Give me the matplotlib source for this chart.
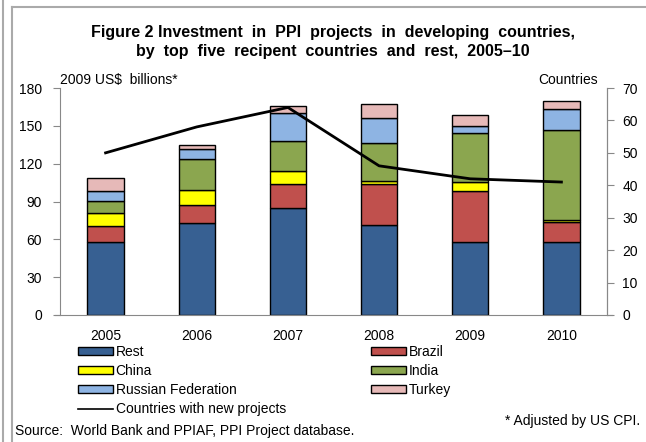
import numpy as np
import matplotlib.pyplot as plt
from matplotlib.lines import Line2D
from matplotlib.patches import Patch

plt.rcParams['font.family'] = ['Liberation Sans', 'DejaVu Sans']

years = ['2005', '2006', '2007', '2008', '2009', '2010']
rest = [58, 73, 84.5, 71.5, 58, 58]
brazil = [12.5, 14.5, 19.5, 32.5, 40, 16]
china = [10, 11.5, 10.5, 2, 7.5, 1.5]
india = [10, 24.5, 23.5, 30, 38.5, 71.5]
russia = [7.5, 8, 22.5, 20.5, 6, 16.5]
turkey = [11, 3.5, 5.5, 11, 8.5, 6.5]
countries = [50, 58, 64, 46, 42, 41]

series = [('Rest', rest, '#376092'), ('Brazil', brazil, '#C0504D'),
          ('China', china, '#FFFF00'), ('India', india, '#8BA64F'),
          ('Russian Federation', russia, '#8EB4E3'), ('Turkey', turkey, '#E6B9B8')]

fig = plt.figure(figsize=(6.46, 4.42), dpi=100)
ax = fig.add_axes([60/646, 1-315/442, 547/646, 227/442])
x = np.arange(len(years))
bottom = np.zeros(len(years))
for name, vals, col in series:
    ax.bar(x, vals, 0.4, bottom=bottom, color=col, edgecolor='black', linewidth=1, zorder=2)
    bottom += np.array(vals)

ax.set_xlim(-0.5, 5.5)
ax.set_ylim(0, 180)
ax.set_yticks(range(0, 181, 30))
ax.set_xticks(x)
ax.set_xticklabels(years)
gray = '#888888'
ax.spines['top'].set_visible(False)
for s in ['left', 'right', 'bottom']:
    ax.spines[s].set_color(gray)
ax.spines['bottom'].set_bounds(-0.5 - 5/91, 5.5 + 5/91)
ax.tick_params(axis='y', direction='out', length=5, color=gray, labelsize=10, pad=8)
ax.tick_params(axis='x', length=0, labelsize=10, pad=10)

ax2 = ax.twinx()
ax2.plot(x, countries, color='black', linewidth=2, zorder=3)
ax2.set_ylim(0, 70)
ax2.set_yticks(range(0, 71, 10))
for s in ['top', 'left', 'bottom']:
    ax2.spines[s].set_visible(False)
ax2.spines['right'].set_color(gray)
ax2.tick_params(axis='y', direction='out', length=5, color=gray, labelsize=10, pad=6)

fig.text(333/646, 1-42/442,
         'Figure 2 Investment  in  PPI  projects  in  developing  countries,\nby  top  five  recipent  countries  and  rest,  2005\u201310',
         ha='center', va='center', fontsize=11.5, fontweight='bold', linespacing=1.3)
fig.text(60/646, 1-80/442, '2009 US$  billions*', ha='left', va='center', fontsize=10)
fig.text(598/646, 1-80/442, 'Countries', ha='right', va='center', fontsize=10)

h = {name: Patch(facecolor=col, edgecolor='black', linewidth=1) for name, _, col in series}
line_h = Line2D([], [], color='black', linewidth=1.2)
kw = dict(frameon=False, fontsize=10, handlelength=2.5, handleheight=0.45, handletextpad=0.2,
          labelspacing=0.36, borderaxespad=0, borderpad=0)
fig.legend([h['Rest'], h['China'], h['Russian Federation'], line_h],
           ['Rest', 'China', 'Russian Federation', 'Countries with new projects'],
           loc='upper left', bbox_to_anchor=(78/646, 1-345/442), **kw)
fig.legend([h['Brazil'], h['India'], h['Turkey']], ['Brazil', 'India', 'Turkey'],
           loc='upper left', bbox_to_anchor=(371/646, 1-345/442), **kw)

fig.text(15/646, 1-431/442, 'Source:  World Bank and PPIAF, PPI Project database.', fontsize=10, va='center')
fig.text(640/646, 1-421/442, '* Adjusted by US CPI.', fontsize=10, va='center', ha='right')

fig.add_artist(Line2D([3/646, 3/646], [0, 1], color='#aaaaaa', linewidth=1.5, transform=fig.transFigure))
fig.add_artist(Line2D([12/646, 12/646], [0, 1-7/442], color='#aaaaaa', linewidth=1.5, transform=fig.transFigure))
fig.add_artist(Line2D([12/646, 1], [1-7/442, 1-7/442], color='#aaaaaa', linewidth=1.5, transform=fig.transFigure))

fig.savefig('out.png', dpi=100)
